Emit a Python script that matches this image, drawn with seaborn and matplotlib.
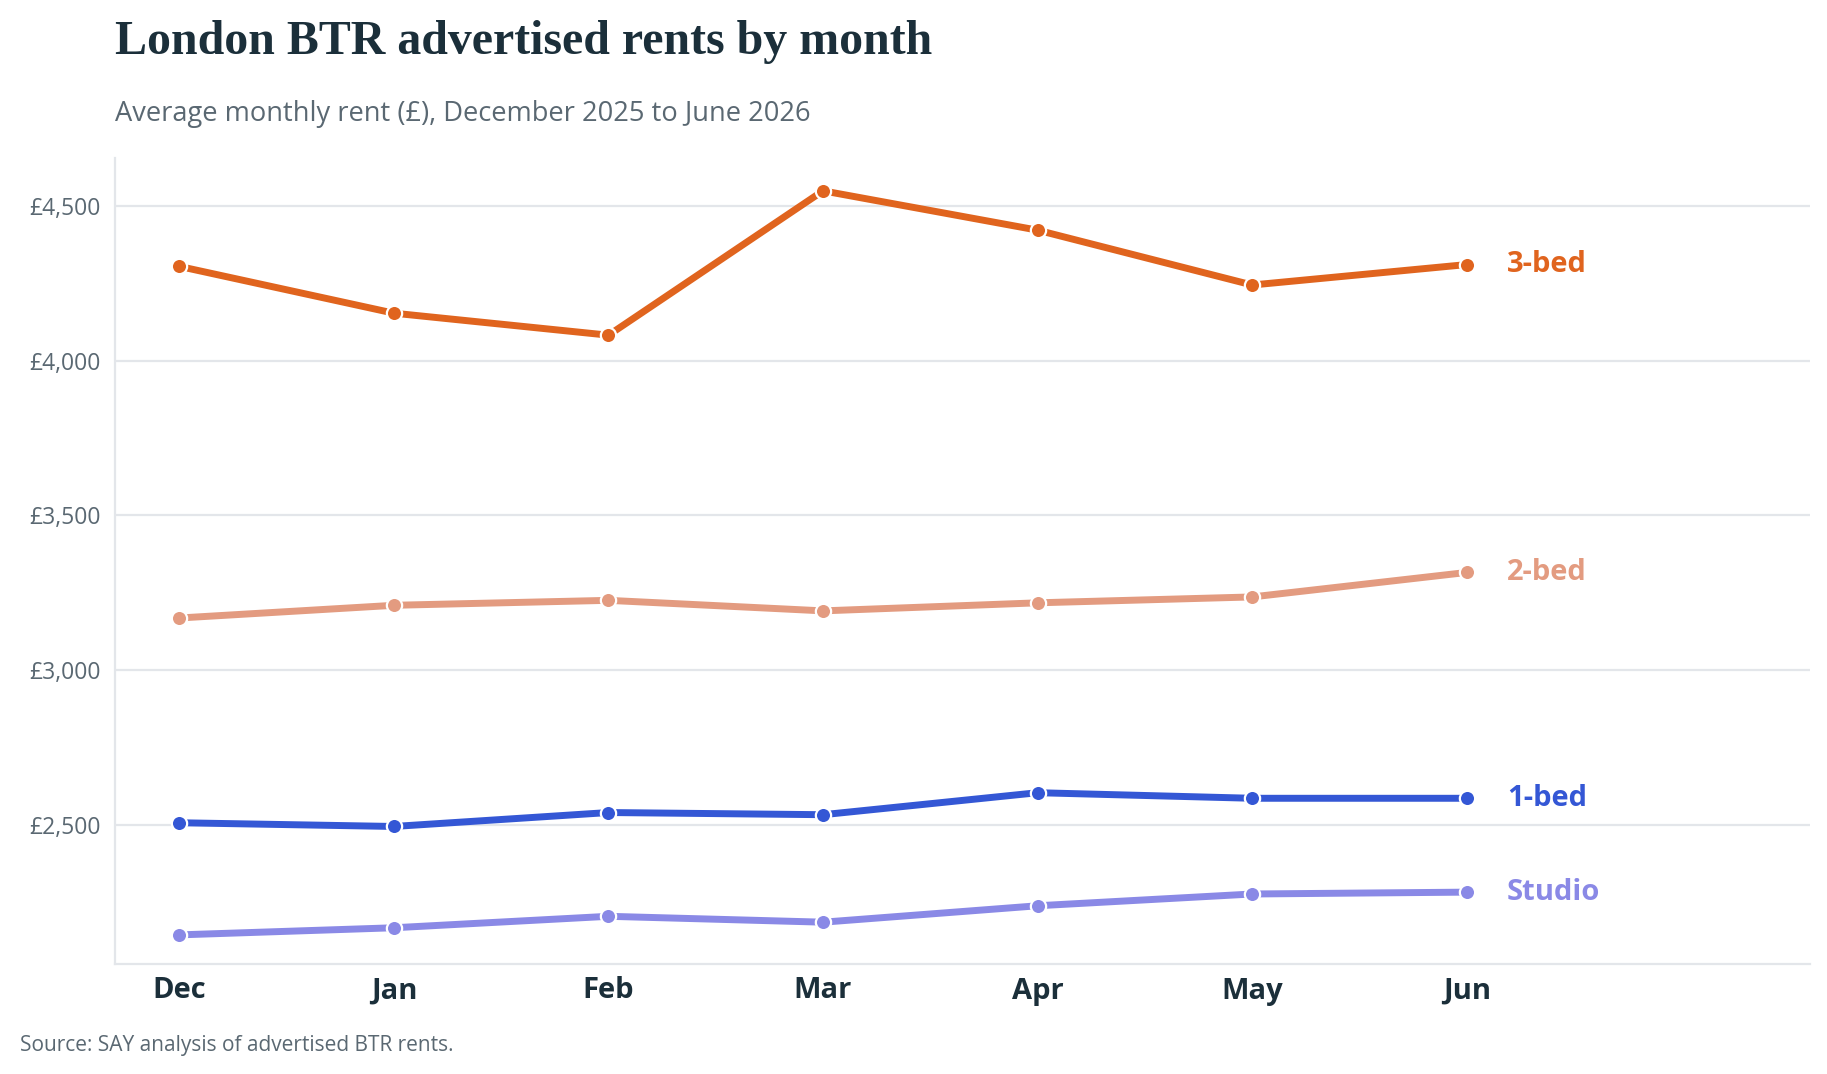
import matplotlib
matplotlib.use("Agg")
import matplotlib.pyplot as plt
import seaborn as sns
import pandas as pd
from matplotlib.ticker import FuncFormatter

# ---- data ----
months = ["Dec", "Jan", "Feb", "Mar", "Apr", "May", "Jun"]
studio = [2146, 2169, 2206, 2187, 2240, 2278, 2284]
one_bed = [2508, 2496, 2541, 2534, 2605, 2587, 2587]
two_bed = [3169, 3210, 3226, 3192, 3218, 3237, 3316]
three_bed = [4304, 4153, 4082, 4548, 4421, 4244, 4310]
series_names = ["3-bed", "2-bed", "1-bed", "Studio"]
y_ticks = [2500, 3000, 3500, 4000, 4500]

colors = {"3-bed": "#E0641E", "2-bed": "#E39B80", "1-bed": "#3457D5", "Studio": "#8A89E6"}

values = {"3-bed": three_bed, "2-bed": two_bed, "1-bed": one_bed, "Studio": studio}
rows = []
for name in series_names:
    for i, (m, v) in enumerate(zip(months, values[name])):
        rows.append({"idx": i, "month": m, "rent": v, "type": name})
df = pd.DataFrame(rows)

sns.set_theme(style="white")
body_font = ["Open Sans", "DejaVu Sans"]
plt.rcParams["font.family"] = body_font

W, H = 1827, 1074
fig = plt.figure(figsize=(W / 100, H / 100), dpi=100)
ax = fig.add_axes([115 / W, 1 - 964 / H, (1810 - 115) / W, (964 - 158) / H])

sns.lineplot(data=df, x="idx", y="rent", hue="type", hue_order=series_names,
             palette=colors, linewidth=5, marker="o", markersize=11,
             markeredgecolor="white", markeredgewidth=1.6, ax=ax, legend=False,
             zorder=3)

ax.set_xlim(-0.3, 7.6)
ax.set_ylim(2052, 4654)
ax.set_yticks(y_ticks)
ax.yaxis.set_major_formatter(FuncFormatter(lambda v, p: f"£{int(v):,}"))
ax.set_xticks(range(len(months)))
ax.set_xticklabels(months)
ax.set_xlabel("")
ax.set_ylabel("")

grid_c = "#E3E6EA"
ax.grid(axis="y", color=grid_c, linewidth=1.6, zorder=0)
ax.grid(axis="x", visible=False)
for s in ["top", "right"]:
    ax.spines[s].set_visible(False)
for s in ["left", "bottom"]:
    ax.spines[s].set_color(grid_c)
    ax.spines[s].set_linewidth(1.6)

ax.tick_params(axis="y", length=0, pad=10, labelsize=16.5, labelcolor="#5A6872")
ax.tick_params(axis="x", length=0, pad=9, labelsize=21, labelcolor="#1B2F3A")
for lab in ax.get_xticklabels():
    lab.set_fontweight("bold")

# end labels
for name in series_names:
    ax.annotate(name, xy=(len(months) - 1, values[name][-1]), xytext=(29, 0),
                textcoords="offset points", va="center", ha="left",
                fontsize=21, fontweight="bold", color=colors[name])

fig.text(115 / W, 1 - 42 / H, "London BTR advertised rents by month",
         fontsize=34.5, fontweight="bold", color="#1B2F3A", va="center", ha="left",
         family=["Liberation Serif", "DejaVu Serif"])
fig.text(115 / W, 1 - 114 / H, "Average monthly rent (£), December 2025 to June 2026",
         fontsize=19.6, color="#5A6872", va="center", ha="left")
fig.text(20 / W, 1 - 1045 / H, "Source: SAY analysis of advertised BTR rents.",
         fontsize=15, color="#5A6872", va="center", ha="left")

fig.savefig("out.png", dpi=100, facecolor="white")
